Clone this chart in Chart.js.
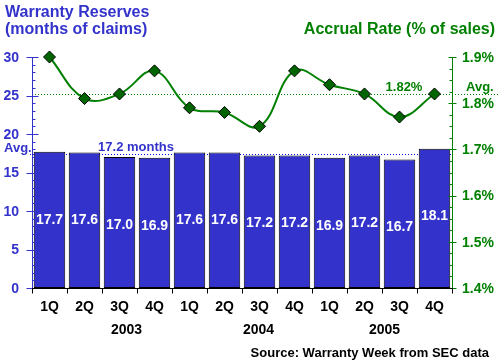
<!DOCTYPE html>
<html>
<head>
<meta charset="utf-8">
<script src="https://cdn.jsdelivr.net/npm/chart.js@4"></script>
<style>
    body { margin: 0; background: #fff; }
    #wrap { width: 500px; height: 364px; position: relative; }
</style>
</head>
<body>
<div id="wrap"><canvas id="chart"></canvas></div>
<script>
// Chart data
const quarters = ['1Q', '2Q', '3Q', '4Q', '1Q', '2Q', '3Q', '4Q', '1Q', '2Q', '3Q', '4Q'];
const years = ['2003', '2004', '2005'];
const reserveMonths = [17.7, 17.6, 17.0, 16.9, 17.6, 17.6, 17.2, 17.2, 16.9, 17.2, 16.7, 18.1];
const accrualRate = [1.90, 1.81, 1.82, 1.87, 1.79, 1.78, 1.75, 1.87, 1.84, 1.82, 1.77, 1.82];
const leftTicks = [0, 5, 10, 15, 20, 25, 30];
const rightTicks = [1.4, 1.5, 1.6, 1.7, 1.8, 1.9];
const avgMonths = 17.2;
const avgRate = 1.82;

const BLUE = '#3333cc';
const GREEN = '#008000';
const FONT = 'Liberation Sans, Arial, sans-serif';

// Axes, ticks, avg lines and all text drawn around the chart area
const decorPlugin = {
    id: 'decor',
    beforeDatasetsDraw(chart) {
        const ctx = chart.ctx;
        const area = chart.chartArea;
        const y = chart.scales.y;
        const y1 = chart.scales.y1;

        ctx.save();
        ctx.lineWidth = 1;
        ctx.setLineDash([1, 2]);

        // Avg lines
        const ya = Math.round(y.getPixelForValue(avgMonths + 0.2)) + 0.5;
        ctx.strokeStyle = '#0000ff';
        ctx.beginPath();
        ctx.moveTo(30, ya);
        ctx.lineTo(area.right, ya);
        ctx.stroke();

        const yr = Math.round(y1.getPixelForValue(avgRate)) + 0.5;
        ctx.strokeStyle = GREEN;
        ctx.beginPath();
        ctx.moveTo(area.left, yr);
        ctx.lineTo(498, yr);
        ctx.stroke();
        ctx.restore();
    },
    afterDraw(chart) {
        const ctx = chart.ctx;
        const area = chart.chartArea;
        const x = chart.scales.x;
        const y = chart.scales.y;
        const y1 = chart.scales.y1;
        const L = area.left + 0.5;
        const R = Math.round(area.right) + 0.5;
        const B = Math.round(area.bottom) + 0.5;

        ctx.save();
        ctx.lineWidth = 1;

        // Left axis
        ctx.strokeStyle = BLUE;
        ctx.beginPath();
        ctx.moveTo(L, area.top);
        ctx.lineTo(L, B);
        for (let v = 0; v <= 30; v++) {
            const py = Math.round(y.getPixelForValue(v)) + 0.5;
            if (v % 5 === 0) {
                ctx.moveTo(L - 6, py);
                ctx.lineTo(L + 6, py);
            } else {
                ctx.moveTo(L, py);
                ctx.lineTo(L + 3, py);
            }
        }
        ctx.stroke();

        // Right axis
        ctx.strokeStyle = GREEN;
        ctx.beginPath();
        ctx.moveTo(R, area.top);
        ctx.lineTo(R, B);
        for (let i = 0; i <= 20; i++) {
            const py = Math.round(y1.getPixelForValue(1.4 + i * 0.025)) + 0.5;
            if (i % 4 === 0) {
                ctx.moveTo(R - 4, py);
                ctx.lineTo(R + 4, py);
            } else {
                ctx.moveTo(R - 3, py);
                ctx.lineTo(R, py);
            }
        }
        ctx.stroke();

        // Bottom axis with ticks between categories
        ctx.strokeStyle = '#000';
        ctx.beginPath();
        ctx.moveTo(L, B);
        ctx.lineTo(R, B);
        for (let i = 0; i <= quarters.length; i++) {
            const px = Math.round(x.getPixelForValue(i - 0.5)) + 0.5;
            ctx.moveTo(px, B);
            ctx.lineTo(px, B + 5);
        }
        ctx.stroke();

        // Tick labels
        ctx.font = 'bold 14px ' + FONT;
        ctx.textBaseline = 'middle';
        ctx.fillStyle = BLUE;
        ctx.textAlign = 'right';
        leftTicks.forEach(v => ctx.fillText(String(v), 19, y.getPixelForValue(v) + 1));
        ctx.fillStyle = GREEN;
        ctx.textAlign = 'left';
        rightTicks.forEach(v => ctx.fillText(v.toFixed(1) + '%', 462, y1.getPixelForValue(v) + 1));

        // Category labels
        ctx.fillStyle = '#000';
        ctx.textAlign = 'center';
        quarters.forEach((q, i) => ctx.fillText(q, x.getPixelForValue(i), 307));
        const yearAt = [2.2, 5.97, 9.57];
        years.forEach((yr, i) => ctx.fillText(yr, x.getPixelForValue(yearAt[i]), 330));

        // Bar value labels
        ctx.fillStyle = '#fff';
        const bars = chart.getDatasetMeta(1).data;
        bars.forEach((bar, i) => {
            ctx.fillText(reserveMonths[i].toFixed(1), bar.x, bar.y + 68);
        });

        // Titles
        ctx.textBaseline = 'alphabetic';
        ctx.font = 'bold 16px ' + FONT;
        ctx.fillStyle = BLUE;
        ctx.textAlign = 'left';
        ctx.fillText('Warranty Reserves', 5, 17);
        ctx.fillText('(months of claims)', 5, 34);
        ctx.fillStyle = GREEN;
        ctx.textAlign = 'right';
        ctx.fillText('Accrual Rate (% of sales)', 495, 34);

        // Avg labels
        ctx.font = 'bold 13px ' + FONT;
        ctx.textBaseline = 'middle';
        ctx.fillStyle = BLUE;
        ctx.textAlign = 'left';
        ctx.fillText('Avg.', 4, 148);
        ctx.textAlign = 'center';
        ctx.fillText(avgMonths.toFixed(1) + ' months', 136, 147);
        ctx.fillStyle = GREEN;
        ctx.fillText(avgRate.toFixed(2) + '%', 404, 87);
        ctx.textAlign = 'left';
        ctx.fillText('Avg.', 466, 87);

        // Source
        ctx.fillStyle = '#000';
        ctx.textAlign = 'right';
        ctx.fillText('Source: Warranty Week from SEC data', 489, 353);
        ctx.restore();
    }
};

const ctx = document.getElementById('chart').getContext('2d');
new Chart(ctx, {
    data: {
        labels: quarters,
        datasets: [{
            type: 'line',
            label: 'Accrual Rate',
            data: accrualRate,
            yAxisID: 'y1',
            borderColor: GREEN,
            borderWidth: 2,
            tension: 0.4,
            clip: false,
            pointStyle: 'rectRot',
            pointRadius: 6,
            pointBackgroundColor: '#006400',
            pointBorderColor: '#000',
            pointBorderWidth: 1,
            order: 0
        }, {
            type: 'bar',
            label: 'Warranty Reserves',
            data: reserveMonths,
            yAxisID: 'y',
            backgroundColor: BLUE,
            borderColor: '#000',
            borderWidth: 1,
            borderSkipped: false,
            barPercentage: 0.9,
            categoryPercentage: 1,
            order: 1
        }]
    },
    options: {
        responsive: true,
        maintainAspectRatio: false,
        animation: false,
        layout: { padding: { left: 32, right: 48, top: 57, bottom: 76 } },
        plugins: { legend: { display: false }, tooltip: { enabled: false } },
        scales: {
            x: { display: false, offset: true },
            y: { display: false, min: 0, max: 30 },
            y1: { display: false, min: 1.4, max: 1.9, position: 'right' }
        }
    },
    plugins: [decorPlugin]
});
</script>
</body>
</html>
